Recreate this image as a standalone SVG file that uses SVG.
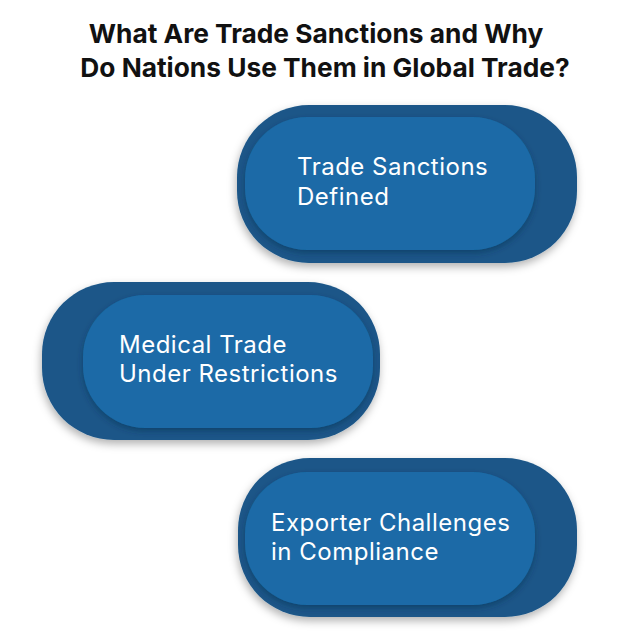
<svg xmlns="http://www.w3.org/2000/svg" width="639" height="635" viewBox="0 0 639 635">
<defs>
<filter id="sh" x="-10%" y="-10%" width="120%" height="130%">
<feDropShadow dx="-1" dy="4" stdDeviation="4" flood-color="#000" flood-opacity="0.3"/>
</filter>
<filter id="sh2" x="-10%" y="-10%" width="120%" height="130%">
<feDropShadow dx="0" dy="3" stdDeviation="3" flood-color="#0a2a4a" flood-opacity="0.45"/>
</filter>
</defs>
<style>
.outer{fill:#1b5688;filter:url(#sh)}
.inner{fill:#1a6ba7;filter:url(#sh2)}
.lbl{font-family:Inter,"Liberation Sans",sans-serif;font-size:24px;letter-spacing:0.5px;fill:#ffffff}
.title{font-family:Inter,"Liberation Sans",sans-serif;font-size:26.3px;font-weight:700;fill:#111111;text-anchor:middle}
</style>
<rect width="639" height="635" fill="#ffffff"/>
<g id="title">
<text class="title" x="316" y="43">What Are Trade Sanctions and Why</text>
<text class="title" x="325" y="77">Do Nations Use Them in Global Trade?</text>
</g>
<g id="node1">
<rect class="outer" x="237" y="105" width="340" height="158" rx="72"/>
<rect class="inner" x="245" y="117" width="290" height="133" rx="62"/>
<text class="lbl" x="297" y="175">Trade Sanctions</text>
<text class="lbl" x="297" y="205">Defined</text>
</g>
<g id="node2">
<rect class="outer" x="42" y="282" width="338" height="158" rx="72"/>
<rect class="inner" x="83" y="295" width="290" height="133" rx="62"/>
<text class="lbl" x="119" y="353">Medical Trade</text>
<text class="lbl" x="119" y="382">Under Restrictions</text>
</g>
<g id="node3">
<rect class="outer" x="238" y="458" width="339" height="159" rx="72"/>
<rect class="inner" x="245" y="472" width="290" height="133" rx="62"/>
<text class="lbl" x="271" y="531">Exporter Challenges</text>
<text class="lbl" x="271" y="560">in Compliance</text>
</g>
<g id="connectors"/>
</svg>
